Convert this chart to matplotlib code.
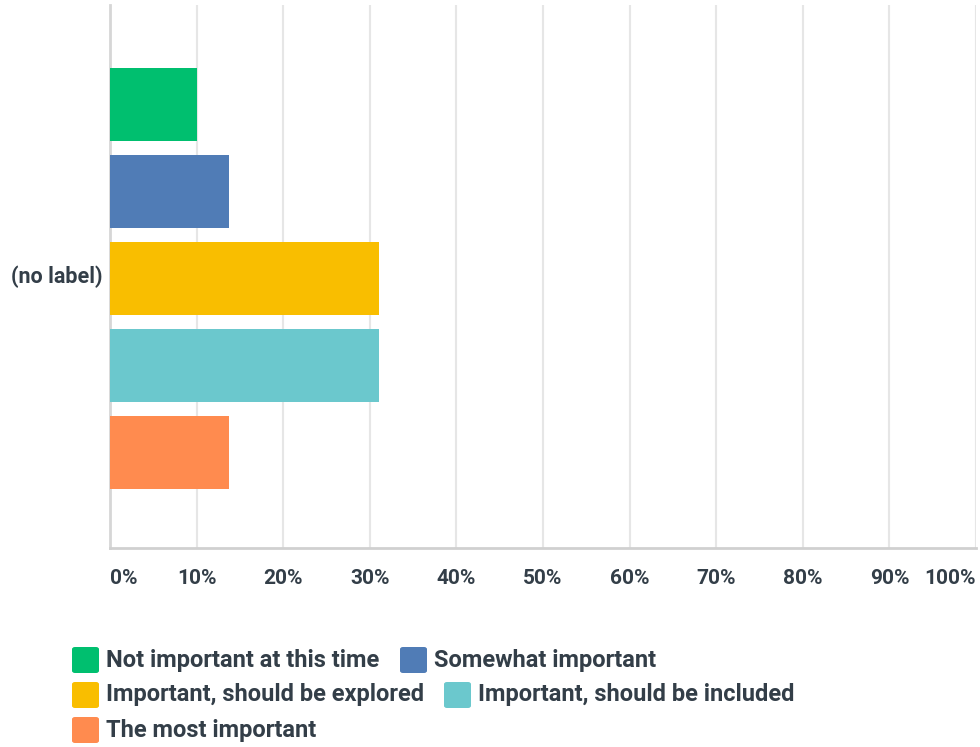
import matplotlib.pyplot as plt
from matplotlib.patches import FancyBboxPatch

# survey answers, share of respondents in %
categories = ["Not important at this time", "Somewhat important",
              "Important, should be explored", "Important, should be included",
              "The most important"]
values = [10.1, 13.79, 31.03, 31.03, 13.79]
colors = ["#00bf6f", "#507cb6", "#f9be00", "#6bc8cd", "#ff8b4f"]
row_label = "(no label)"
ticks = list(range(0, 101, 10))
tick_labels = [f"{t}%" for t in ticks]

txt_color = "#333e48"
plt.rcParams['font.family'] = ['Roboto', 'DejaVu Sans']

fig = plt.figure(figsize=(9.8, 7.47), dpi=100)
W, H = 980, 747
ax = fig.add_axes([110 / W, 1 - 548 / H, 866 / W, 543 / H])

pitch = 87
bar_h = 73
ys = [104 + i * pitch for i in range(len(values))]  # pixel centres from top of fig
ys_ax = [548 - y for y in ys]
ax.barh(ys_ax, values, height=bar_h, color=colors, zorder=3)
ax.set_xlim(0, 100)
ax.set_ylim(0, 543)

ax.set_xticks(ticks)
ax.set_xticklabels([])
ax.tick_params(axis='both', length=0)
ax.set_yticks([])
ax.grid(axis='x', color='#e6e6e6', linewidth=1.5, zorder=0)
for s in ['top', 'right']:
    ax.spines[s].set_visible(False)
ax.spines['left'].set_color('#d6d6d6')
ax.spines['left'].set_linewidth(2)
ax.spines['bottom'].set_color('#d0d0d0')
ax.spines['bottom'].set_linewidth(2)

# tick labels under the axis
for t, lab in zip(ticks, tick_labels):
    ha = 'center'
    x = t
    if t == 0:
        ha = 'left'
    elif t == 100:
        ha = 'right'
    ax.text(x, -30, lab, ha=ha, va='center', fontsize=15, color=txt_color,
            fontweight='semibold', clip_on=False)

fig.text(102 / W, 1 - 277 / H, row_label, ha='right', va='center', fontsize=15.5,
         color=txt_color, fontweight='semibold')

# legend, laid out like the original flow layout
leg_pos = [(72, 660), (400, 660), (72, 695), (444, 695), (72, 730)]
for (px, py), lab, c in zip(leg_pos, categories, colors):
    patch = FancyBboxPatch((px / W, 1 - (py + 13) / H), 27 / W, 26 / H,
                           boxstyle="round,pad=0,rounding_size=0.003",
                           transform=fig.transFigure, facecolor=c,
                           edgecolor='none')
    fig.patches.append(patch)
    fig.text((px + 34) / W, 1 - py / H, lab, ha='left', va='center',
             fontsize=17, color=txt_color, fontweight='semibold')

fig.savefig("out.png", dpi=100)
